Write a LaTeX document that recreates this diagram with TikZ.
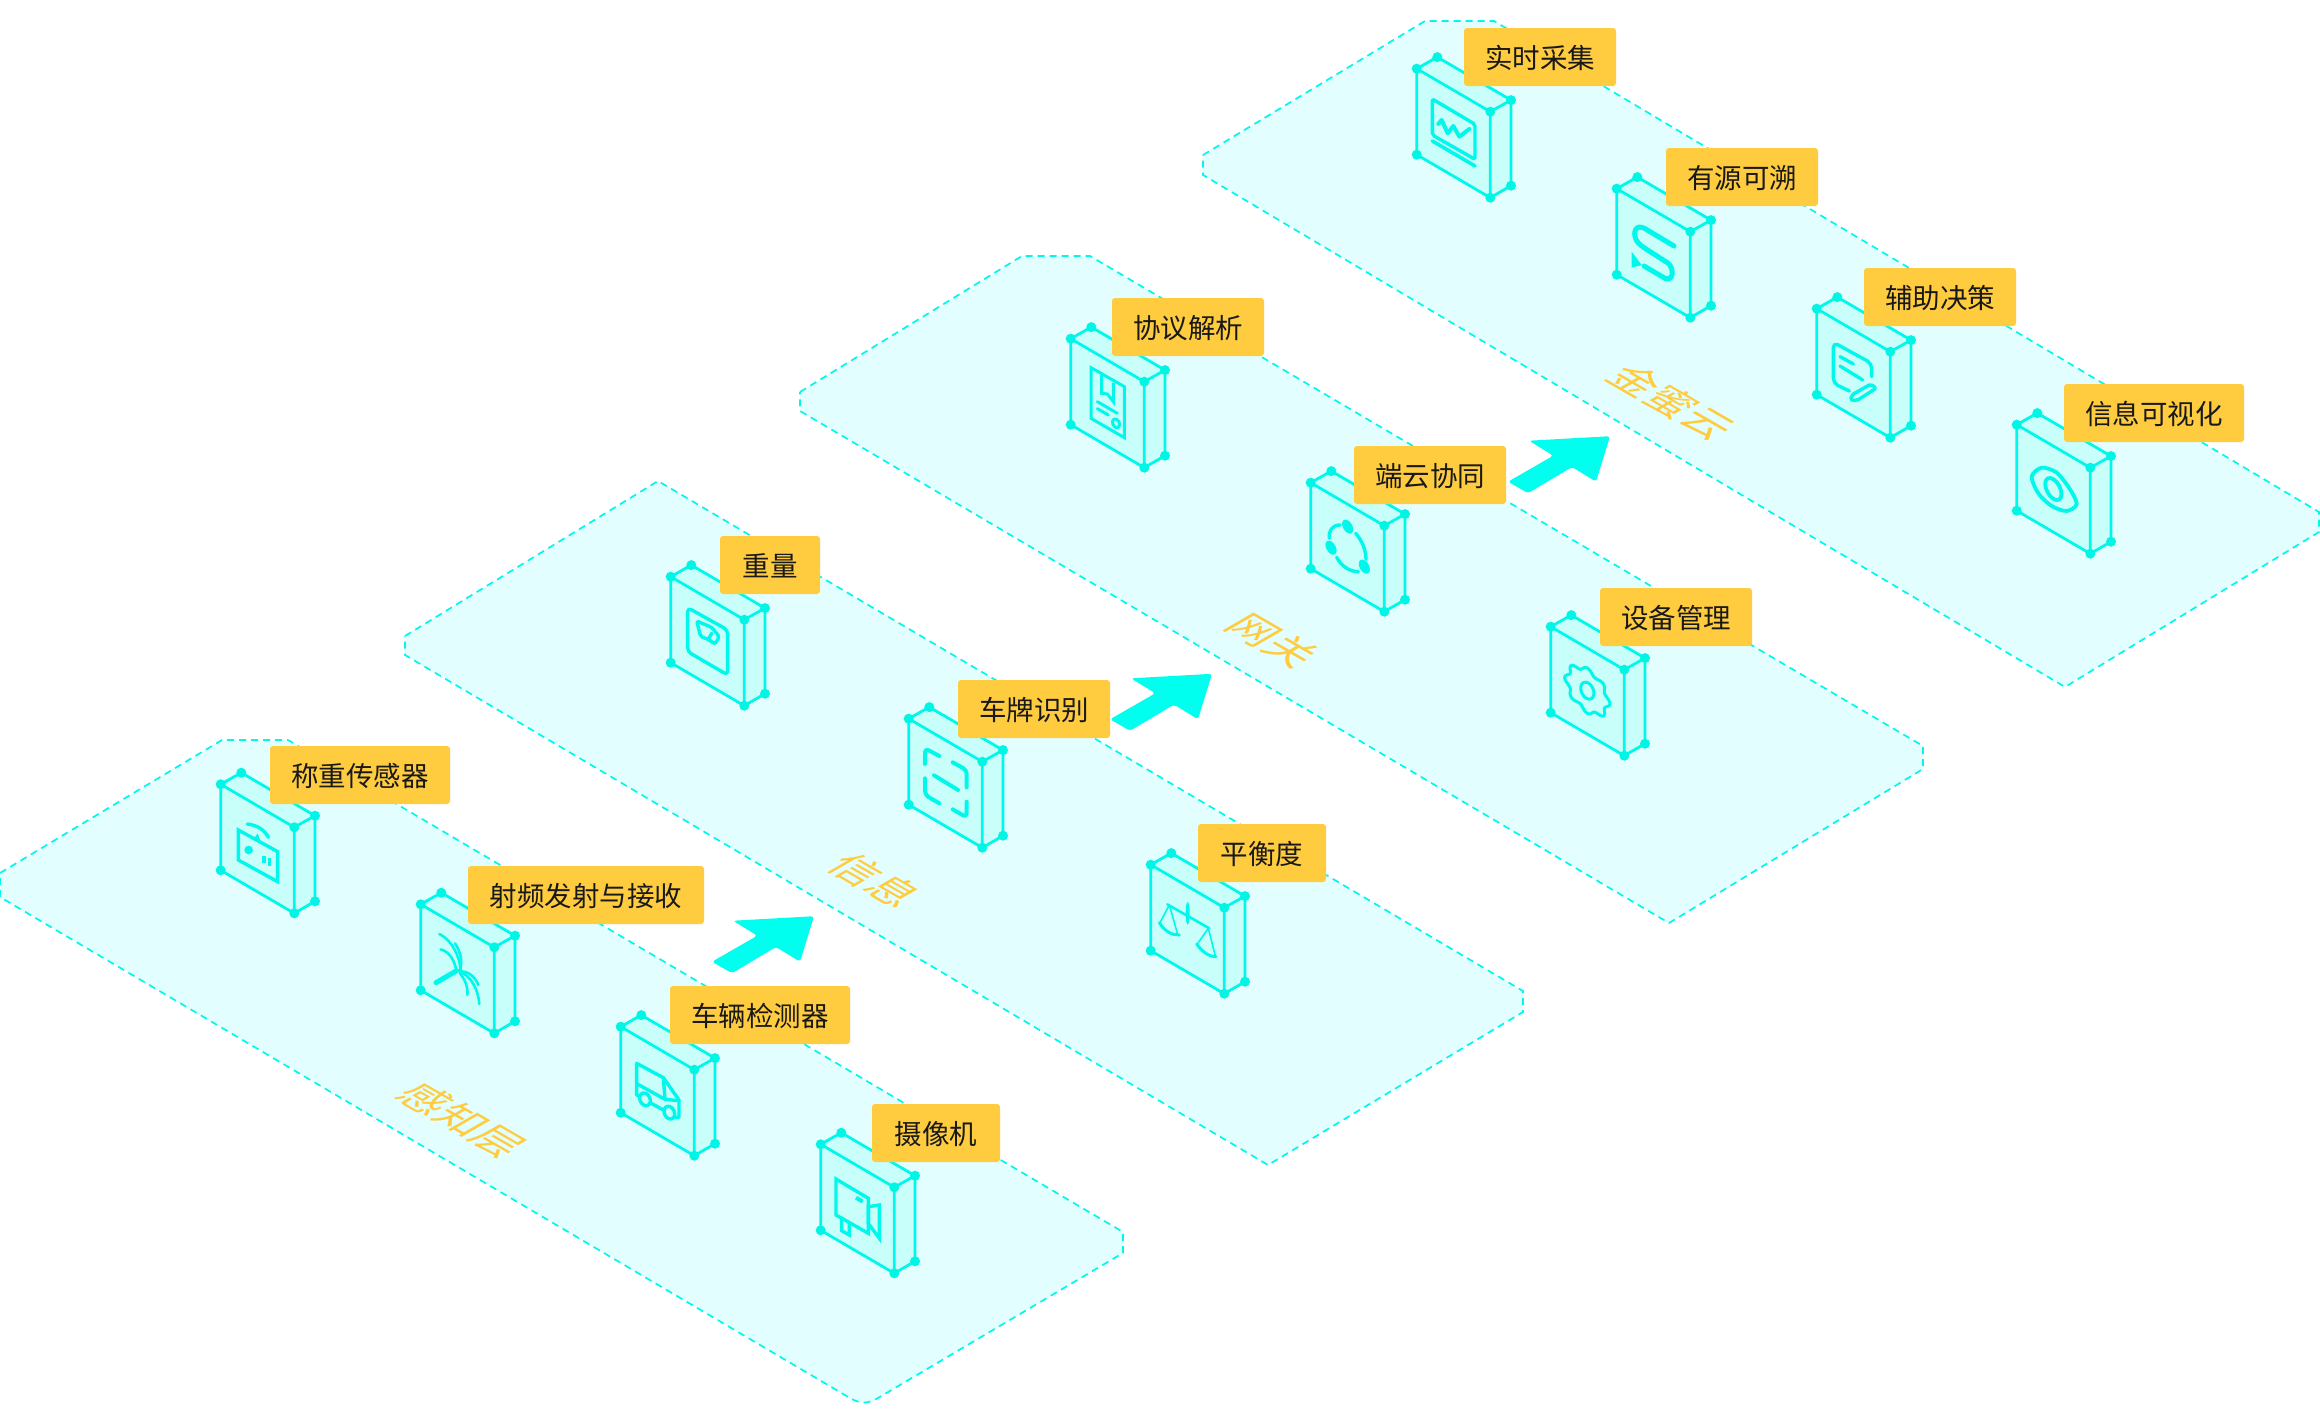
\documentclass[tikz,border=0pt]{standalone}
\usepackage{fontspec}
\setmainfont{Noto Sans CJK SC}
\definecolor{cy}{HTML}{00F8EC}
\definecolor{dotc}{HTML}{00F5E4}
\definecolor{floorc}{HTML}{E2FEFF}
\definecolor{facec}{HTML}{C8FFFB}
\definecolor{labc}{HTML}{FFCC40}
\definecolor{arrowc}{HTML}{00FFEE}
\tikzset{
  layerbox/.style={fill=floorc,draw=cy,line width=1.7pt,dash pattern=on 7pt off 5pt},
  cubeline/.style={draw=cy,line width=2.8pt,line join=round},
  icon/.style={draw=cy,line width=3.4pt,line join=round,line cap=round},
  icona/.style={draw=cy,line width=3.4pt,line join=miter,line cap=butt},
  lbl/.style={fill=labc,rounded corners=3pt,minimum height=58pt,inner sep=0pt,text=black!90,text height=26pt,text depth=3pt,font=\fontsize{27.5}{32}\selectfont},
  floortxt/.style={text=labc,inner sep=0pt,font=\fontsize{42}{48}\selectfont,cm={0.866,-0.5,0.866,0.5,(0,0)}}
}
\newcommand{\isocube}[2]{%
  \begin{scope}[shift={(#1,#2)}]
    \fill[facec] (0,0)--(20.6,-11.6)--(94.3,31.4)--(94.3,117)--(73.6,129)--(0,86)--cycle;
    \draw[cubeline] (0,0)--(20.6,-11.6)--(94.3,31.4)--(73.6,43)--cycle;
    \draw[cubeline] (0,0)--(0,86)--(73.6,129)--(73.6,43);
    \draw[cubeline] (73.6,129)--(94.3,117)--(94.3,31.4);
    \foreach \px/\py in {0/0,20.6/-11.6,73.6/43,94.3/31.4,0/86,73.6/129,94.3/117}
      \fill[dotc] (\px,\py) circle (5);
  \end{scope}}
\newcommand{\bigarrow}[2]{%
  \fill[arrowc,rounded corners=3pt,shift={(#1,#2)}] (-1,0)--(44.3,-26)--(20,-41)--(101,-45.5)--(87,0)--(63,-14.7)--(19,11.5)--cycle;}
\begin{document}
\begin{tikzpicture}[x=1pt,y=-1pt]
\useasboundingbox (0,0) rectangle (2320,1408);
\fill[white] (0,0) rectangle (2320,1408);
% floors
\draw[layerbox] (1203,155)--(1425,21)--(1494,21)--(2319,512)--(2319,532)--(2065,687)--(1203,175)--cycle;
\draw[layerbox] (800,392)--(1022,256)--(1090,256)--(1923,746)--(1923,769)--(1669,923)--(800,411)--cycle;
\draw[layerbox] (405,636)--(658,481)--(1523,991)--(1523,1012)--(1268,1165)--(405,655)--cycle;
\draw[layerbox] (0,873)--(222,740)--(288,740)--(1123,1232)--(1123,1253)--(878,1398) .. controls (868,1404) and (860,1404) .. (850,1398)--(0,897)--cycle;
% floor labels
\node[floortxt] (f1) at (462,1120) {感知层};
\node[floortxt] (f2) at (875,880) {信息};
\node[floortxt] (f3) at (1273,641) {网关};
\node[floortxt] (f4) at (1672,402) {金蜜云};
% cubes
\isocube{220.7}{784.3}\isocube{420.7}{904.3}\isocube{620.7}{1026.7}\isocube{820.7}{1144.3}
\isocube{670.7}{576.7}\isocube{908.7}{718.7}\isocube{1150.7}{864.7}
\isocube{1070.7}{338.7}\isocube{1310.7}{482.7}\isocube{1550.7}{626.7}
\isocube{1416.7}{68.7}\isocube{1616.7}{188.7}\isocube{1816.7}{308.7}\isocube{2016.7}{424.7}
% icon: sensor
\begin{scope}[shift={(190,730)},scale=1/3]
  \draw[icona] (145,300)--(263,365)--(263,455)--(145,390)--cycle;
  \fill[cy] (176,360) circle (13);
  \draw[icona] (222,378)--(222,400) (238,385)--(238,407);
  \draw[icon] (172,282) .. controls (200,285) and (225,300) .. (235,322);
  \fill[cy] (203,310)--(192,325)--(213,337)--cycle;
\end{scope}
% icon: palm
\begin{scope}[shift={(400,860)},scale=1/3]
  \draw[icon,line width=5pt] (108,368)--(170,332);
  \draw[icon,line width=2.6pt] (118,222) .. controls (155,240) and (178,285) .. (182,330);
  \draw[icon,line width=2.6pt] (165,250) .. controls (185,280) and (188,310) .. (178,335);
  \draw[icon,line width=2.6pt] (122,268) .. controls (150,275) and (165,305) .. (170,335);
  \draw[icon,line width=2.6pt] (178,335) .. controls (205,330) and (228,355) .. (235,375);
  \draw[icon,line width=2.6pt] (180,335) .. controls (215,350) and (235,390) .. (238,432);
  \draw[icon,line width=2.6pt] (180,340) .. controls (195,360) and (205,380) .. (202,405);
\end{scope}
% icon: van
\begin{scope}[shift={(600,980)},scale=1/3]
  \draw[icon] (120,350)--(110,345)--(110,250)--(190,293)--(237,360)--(237,412)--(225,412);
  \draw[icon] (150,368)--(190,390);
  \draw[icon] (112,312)--(195,358)--(237,362);
  \draw[icon] (190,293)--(195,358);
  \draw[icon] (135,358) ellipse [x radius=15,y radius=20,rotate=25];
  \draw[icon] (208,398) ellipse [x radius=15,y radius=20,rotate=25];
  % camera
  \draw[icona] (708,597)--(805,655)--(805,760)--(708,705)--cycle;
  \draw[icona] (805,680)--(838,675)--(838,775)--(805,730)--cycle;
  \draw[icona] (725,715)--(725,752)--(748,765)--(748,728);
  \draw[icona,line width=4pt] (768,653)--(788,665);
\end{scope}
% icon: weight scale
\begin{scope}[shift={(640,540)},scale=1/3]
  \draw[icon,rounded corners=4pt] (143,203)--(263,270)--(263,405)--(143,335)--cycle;
  \draw[icon,rounded corners=2pt] (170,243)--(215,262)--(238,290)--(225,312)--(205,298)--(182,290)--cycle;
  \draw[icon] (205,298)--(215,280);
\end{scope}
% icon: plate scan
\begin{scope}[shift={(880,690)},scale=1/3]
  \draw[icon,line width=4pt,rounded corners=4pt] (178,198)--(135,175)--(135,222);
  \draw[icon,line width=4pt,rounded corners=4pt] (218,217)--(260,240)--(260,292);
  \draw[icon,line width=4pt,rounded corners=4pt] (135,265)--(135,315)--(178,340);
  \draw[icon,line width=4pt,rounded corners=4pt] (218,358)--(260,382)--(260,335);
  \draw[icon,line width=4pt] (162,256)--(234,300);
\end{scope}
% icon: balance
\begin{scope}[shift={(1110,840)},scale=1/3]
  \draw[icon,line width=2.6pt] (172,193)--(298,265);
  \fill[cy] (233,220) ellipse [x radius=6,y radius=34];
  \draw[icon,line width=1.6pt] (178,195)--(150,248) (178,195)--(203,283);
  \draw[icon,line width=3pt] (148,248) .. controls (165,275) and (185,285) .. (208,285);
  \draw[icon,line width=1.6pt] (295,265)--(262,312) (295,265)--(316,348);
  \draw[icon,line width=3pt] (260,312) .. controls (280,340) and (300,350) .. (318,350);
\end{scope}
% icon: document
\begin{scope}[shift={(1040,320)},scale=1/3]
  \draw[icona,line width=3pt] (153,143)--(253,200)--(253,353)--(153,295)--cycle;
  \draw[icona,line width=3pt] (185,165)--(185,220)--(202,222)--(220,245)--(220,188);
  \draw[icon,line width=3pt] (172,245)--(232,280) (172,266)--(205,285);
  \draw[icon,line width=3pt] (228,310) ellipse [x radius=10,y radius=14,rotate=25];
\end{scope}
% icon: cycle and gear
\begin{scope}[shift={(1280,470)},scale=1/3]
  \fill[cy] (203,170) ellipse [x radius=14,y radius=23,rotate=30];
  \fill[cy] (153,233) ellipse [x radius=14,y radius=23,rotate=30];
  \fill[cy] (253,290) ellipse [x radius=14,y radius=23,rotate=30];
  \draw[icon] (180,165) .. controls (155,165) and (145,185) .. (148,205);
  \draw[icon] (227,190) .. controls (245,210) and (258,240) .. (258,268);
  \draw[icon] (170,262) .. controls (185,290) and (210,305) .. (235,305);
  \begin{scope}[shift={(922,662)}]
    \draw[icon,line width=3pt] plot[domain=0:357,samples=120,smooth cycle] ({(62+6*cos(8*\x))*cos(\x)},{(62+6*cos(8*\x))*sin(\x)+0.58*(62+6*cos(8*\x))*cos(\x)});
    \draw[icon,line width=3pt] (0,0) ellipse [x radius=18,y radius=27,rotate=25];
  \end{scope}
\end{scope}
% icon: chart and S
\begin{scope}[shift={(1400,20)},scale=1/3]
  \draw[icon,rounded corners=2pt] (97,237)--(225,313)--(225,418)--(97,345)--cycle;
  \draw[icon,line width=3.6pt] (97,363)--(225,438);
  \draw[icon,line width=4pt] (115,312)--(125,300)--(143,340)--(160,318)--(178,350)--(208,327);
  \draw[icon,line width=5pt] (822,678)--(745,632) .. controls (715,610) and (700,625) .. (705,650) .. controls (708,665) and (720,675) .. (735,685)--(805,730) .. controls (825,750) and (818,785) .. (795,775)--(732,738);
  \fill[cy] (695,695)--(725,735)--(695,743)--cycle;
\end{scope}
% icon: note and eye
\begin{scope}[shift={(1800,280)},scale=1/3]
  \draw[icon,rounded corners=5pt] (215,290)--(215,250)--(100,187)--(100,310)--(148,333);
  \draw[icon] (120,230)--(160,252) (120,258)--(188,300);
  \draw[icon,rounded corners=2pt] (155,345)--(213,312)--(228,325)--(170,362)--(152,360)--cycle;
  \draw[icon,line width=3.8pt] plot[smooth cycle] coordinates {(695,590) (725,563) (770,578) (808,625) (830,672) (800,693) (755,678) (715,640)};
  \draw[icon,line width=3.8pt] (760,627) ellipse [x radius=20,y radius=36,rotate=28];
\end{scope}
% arrows
\bigarrow{713}{961.7}
\bigarrow{1111}{719.3}
\bigarrow{1509}{481.7}
% labels
\node[lbl,minimum width=180pt] (a1) at (360,775) {称重传感器};
\node[lbl,minimum width=236pt] (a2) at (586,895) {射频发射与接收};
\node[lbl,minimum width=180pt] (a3) at (760,1015) {车辆检测器};
\node[lbl,minimum width=128pt] (a4) at (936,1133) {摄像机};
\node[lbl,minimum width=100pt] (b1) at (770,565) {重量};
\node[lbl,minimum width=152pt] (b2) at (1034,709) {车牌识别};
\node[lbl,minimum width=128pt] (b3) at (1262,853) {平衡度};
\node[lbl,minimum width=152pt] (c1) at (1188,327) {协议解析};
\node[lbl,minimum width=152pt] (c2) at (1430,475) {端云协同};
\node[lbl,minimum width=152pt] (c3) at (1676,617) {设备管理};
\node[lbl,minimum width=152pt] (d1) at (1540,57) {实时采集};
\node[lbl,minimum width=152pt] (d2) at (1742,177) {有源可溯};
\node[lbl,minimum width=152pt] (d3) at (1940,297) {辅助决策};
\node[lbl,minimum width=180pt] (d4) at (2154,413) {信息可视化};
\end{tikzpicture}
\end{document}
